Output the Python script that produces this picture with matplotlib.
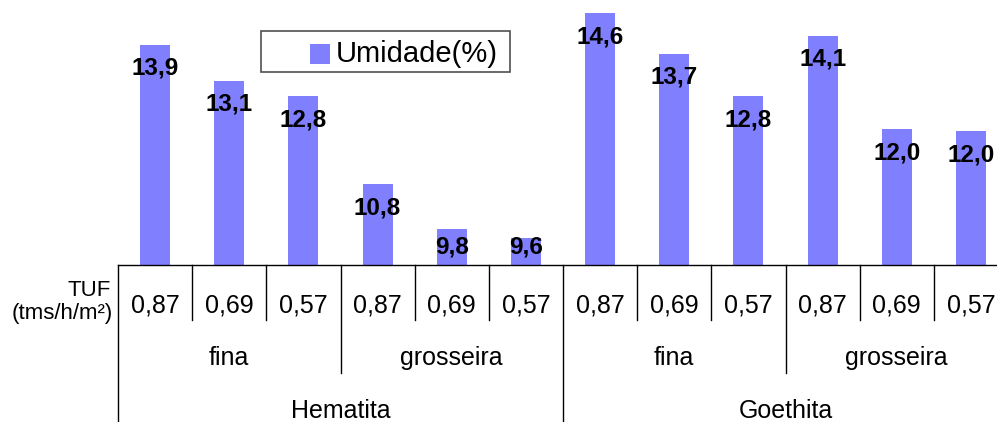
import matplotlib
matplotlib.use('Agg')
import matplotlib.pyplot as plt
import matplotlib.transforms as mtransforms
from matplotlib.patches import Rectangle

plt.rcParams['font.family'] = ['Liberation Sans', 'DejaVu Sans']

# data
tuf_labels = ['0,87', '0,69', '0,57', '0,87', '0,69', '0,57',
              '0,87', '0,69', '0,57', '0,87', '0,69', '0,57']
granulometria = ['fina', 'grosseira', 'fina', 'grosseira']
minerais = ['Hematita', 'Goethita']
umidade = [13.9, 13.1, 12.76, 10.8, 9.8, 9.6,
           14.6, 13.7, 12.76, 14.1, 12.03, 11.97]

W, H = 997, 422
BAR_COLOR = '#8080FF'

def fx(px):
    return px / W

def fy(py):
    return (H - py) / H

fig = plt.figure(figsize=(W / 100, H / 100), dpi=100)
# axes: left edge at x=118 px, baseline at y=265 px, top at y=0
ax = fig.add_axes([fx(118), fy(265), 890 / W, 265 / H])

x = list(range(len(umidade)))
ax.bar(x, umidade, width=0.405, color=BAR_COLOR, zorder=2)
ax.set_xlim(-0.5, len(umidade) - 0.5)
px_per_unit = 45.0
ax.set_ylim(9.0, 9.0 + 265 / px_per_unit)

for s in ['top', 'right', 'left']:
    ax.spines[s].set_visible(False)
ax.spines['bottom'].set_color('black')
ax.spines['bottom'].set_linewidth(1)
ax.set_xticks([])
ax.set_yticks([])

# value labels inside the bar tops
for xi, v in zip(x, umidade):
    yl = max(v - 24 / px_per_unit, 9.0 + 18 / px_per_unit)
    ax.text(xi, yl, f'{v:.1f}'.replace('.', ','), ha='center', va='center',
            fontsize=17.5, fontweight='bold', color='black', zorder=3)

# multi-level category axis
trans = mtransforms.blended_transform_factory(ax.transData, ax.transAxes)

def ax_y(py):
    return (265 - py) / 265

n = len(umidade)
for i in range(n + 1):
    xs = i - 0.5
    if i % 6 == 0:
        yb = ax_y(430)
    elif i % 3 == 0:
        yb = ax_y(373)
    else:
        yb = ax_y(320)
    ax.plot([xs, xs], [0, yb], color='black', lw=1, transform=trans,
            clip_on=False)

for xi, lab in zip(x, tuf_labels):
    ax.text(xi, ax_y(305), lab, ha='center', va='center', fontsize=18,
            transform=trans)

for k, lab in enumerate(granulometria):
    ax.text(3 * k + 1, ax_y(358), lab, ha='center', va='center',
            fontsize=18, transform=trans)

for k, lab in enumerate(minerais):
    ax.text(6 * k + 2.5, ax_y(411), lab, ha='center', va='center',
            fontsize=18, transform=trans)

fig.text(fx(111), fy(290), 'TUF', ha='right', va='center', fontsize=16)
fig.text(fx(113), fy(313), '(tms/h/m²)', ha='right', va='center', fontsize=16)

# legend box
fig.patches.append(Rectangle((fx(261), fy(72)), fx(510) - fx(261),
                             fy(31) - fy(72), transform=fig.transFigure,
                             facecolor='white', edgecolor='#505050', lw=1.2,
                             zorder=5))
fig.patches.append(Rectangle((fx(310), fy(64)), fx(330) - fx(310),
                             fy(44) - fy(64), transform=fig.transFigure,
                             facecolor=BAR_COLOR, edgecolor='none', zorder=6))
fig.text(fx(336), fy(54), 'Umidade(%)', ha='left', va='center', fontsize=21,
         zorder=7)

fig.savefig('out.png', dpi=100)
